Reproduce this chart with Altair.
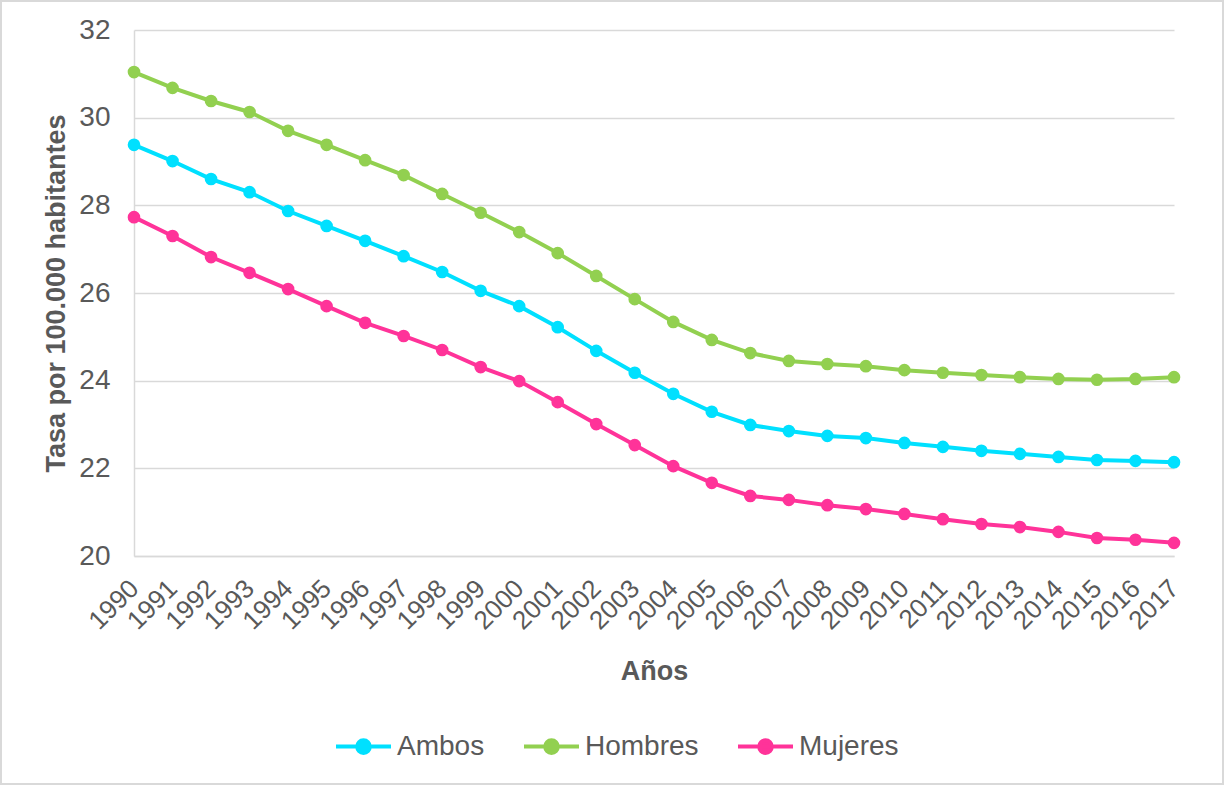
import altair as alt
import pandas as pd

years = list(range(1990, 2018))
ambos = [29.38, 29.01, 28.60, 28.30, 27.87, 27.53, 27.19, 26.84, 26.48, 26.05,
         25.70, 25.22, 24.68, 24.18, 23.70, 23.29, 22.99, 22.85, 22.74, 22.69,
         22.58, 22.49, 22.40, 22.33, 22.26, 22.19, 22.17, 22.14]
hombres = [31.04, 30.68, 30.38, 30.13, 29.70, 29.38, 29.03, 28.69, 28.26, 27.83,
           27.39, 26.91, 26.39, 25.86, 25.34, 24.93, 24.63, 24.45, 24.38, 24.33,
           24.24, 24.18, 24.13, 24.08, 24.04, 24.02, 24.04, 24.08]
mujeres = [27.73, 27.30, 26.82, 26.46, 26.09, 25.70, 25.32, 25.02, 24.70, 24.31,
           23.99, 23.51, 23.01, 22.53, 22.05, 21.67, 21.37, 21.28, 21.16, 21.07,
           20.96, 20.84, 20.73, 20.66, 20.55, 20.41, 20.37, 20.30]
series_names = ["Ambos", "Hombres", "Mujeres"]
series_colors = ["#00E0FF", "#92D050", "#FF3399"]

rows = []
for name, vals in zip(series_names, [ambos, hombres, mujeres]):
    for y, v in zip(years, vals):
        rows.append({"Año": str(y), "Serie": name, "Tasa": v})
df = pd.DataFrame(rows)

FONT = "Liberation Sans"
GREY = "#595959"
GRID = "#d9d9d9"

symbol_path = "M-1,0L1,0M-0.23,0A0.23,0.23,0,1,1,0.23,0A0.23,0.23,0,1,1,-0.23,0Z"

color_scale = alt.Scale(domain=series_names, range=series_colors)

x_enc = alt.X("Año:O", scale=alt.Scale(type="point", padding=0),
              axis=alt.Axis(title="Años", labelAngle=315, labelAlign="right",
                            labelBaseline="middle", labelFontSize=26,
                            labelPadding=28, ticks=False, domainColor=GRID,
                            domainWidth=1.5, titleFontSize=27, titleFontWeight="bold",
                            titlePadding=24, grid=False))
y_enc = alt.Y("Tasa:Q", scale=alt.Scale(domain=[20, 32], nice=False, zero=False),
              axis=alt.Axis(title="Tasa por 100.000 habitantes", values=[20, 22, 24, 26, 28, 30, 32],
                            labelFontSize=28, labelPadding=24, ticks=False,
                            domainColor=GRID, domainWidth=1.5, gridColor=GRID, gridWidth=1.5,
                            titleFontSize=27, titleFontWeight="bold", titlePadding=8))

legend = alt.Legend(title=None, orient="none", legendX=200, legendY=687,
                    direction="horizontal", symbolType=symbol_path, symbolSize=3025,
                    symbolStrokeWidth=4, labelFontSize=28, labelOffset=4,
                    columnPadding=31, padding=0)

base = alt.Chart(df)
lines = base.mark_line(strokeWidth=4).encode(
    x=x_enc, y=y_enc,
    color=alt.Color("Serie:N", scale=color_scale, legend=legend),
)
points = base.mark_point(filled=True, size=160, opacity=1).encode(
    x="Año:O", y="Tasa:Q",
    color=alt.Color("Serie:N", scale=color_scale, legend=legend),
)
frame = alt.Chart(pd.DataFrame({"a": [0]})).mark_rect(
    filled=False, stroke=GRID, strokeWidth=2, clip=False
).encode(x=alt.value(-133), x2=alt.value(1089), y=alt.value(-29), y2=alt.value(754))

chart = alt.layer(frame, lines, points).properties(
    width=1040, height=526,
    padding={"left": 134, "top": 30, "right": 52, "bottom": 229},
    autosize=alt.AutoSizeParams(type="none"),
    background="white",
).configure_view(stroke=None).configure_axis(
    labelFont=FONT, titleFont=FONT, labelColor=GREY, titleColor=GREY
).configure_legend(labelFont=FONT, labelColor=GREY)

chart.save("out.html", embed_options={"renderer": "svg", "actions": False})
